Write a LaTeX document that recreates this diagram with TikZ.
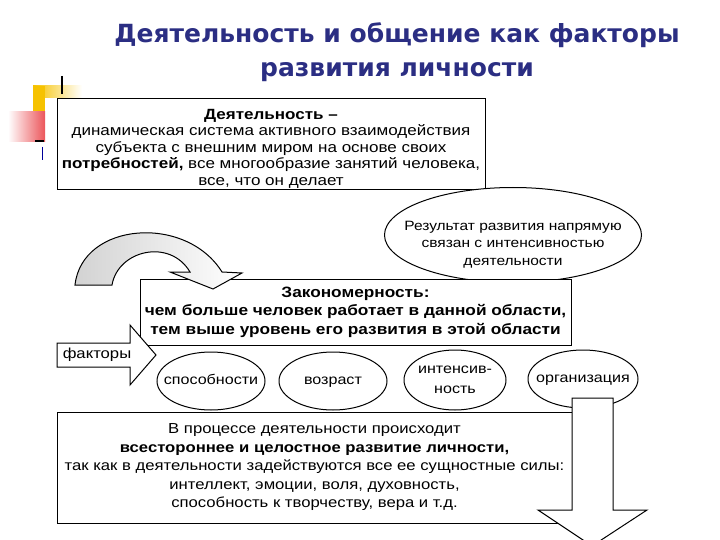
\documentclass[tikz,border=0pt]{standalone}
\usepackage{fontspec}
\setmainfont[FakeStretch=1.15]{Liberation Sans}
\newfontfamily\headfont{DejaVu Sans}
\usetikzlibrary{shapes.geometric}
\definecolor{headblue}{HTML}{2B2E83}
\definecolor{markyellow}{HTML}{F6C200}
\definecolor{markred}{HTML}{E8373D}
\newcommand{\lift}[1]{\rule{0pt}{#1}}
\tikzset{
    textbox/.style={draw,line width=1pt,fill=white,align=center,inner sep=0pt},
    oval/.style={ellipse,draw,line width=1pt,fill=white,align=center,inner xsep=-20pt,inner ysep=-12pt},
    smalloval/.style={oval,font=\fontsize{14}{19}\selectfont,text height=10pt,text depth=3pt},
    blockarrow/.style={draw,line width=1pt,fill=white,line join=miter},
    boxfont/.style={font=\fontsize{14.8}{16.5}\selectfont},
}

\begin{document}
\begin{tikzpicture}[x=1pt,y=-1pt]
    \useasboundingbox[fill=white] (0,0) rectangle (720,540);
    \node[font=\headfont\bfseries\fontsize{25}{34}\selectfont,text=headblue,align=center] (title) at (397,52)
        {Деятельность и общение как факторы\\развития личности};
    \shade[left color=markyellow,right color=white] (33,86) rectangle (82,98);
    \fill[markyellow] (33,86) rectangle (45,116);
    \shade[left color=white,right color=markred!85] (8,112) rectangle (45,142);
    \draw[line width=2.5pt] (62,76) -- (62,94);
    \draw[line width=2pt] (35,141) -- (44,141);
    \draw[blue!60!black,line width=0.8pt] (42,147) -- (42,160);
    \node[textbox,boxfont,minimum width=428pt,minimum height=91pt] (act) at (271,144)
        {\lift{19pt}\textbf{Деятельность –}\\
        динамическая система активного взаимодействия\\
        субъекта с внешним миром на основе своих\\
        \textbf{потребностей,} все многообразие занятий человека,\\
        все, что он делает};
    \node[oval,font=\fontsize{13.5}{17.5}\selectfont,minimum width=257pt,minimum height=95pt] (result) at (513,235)
        {\lift{28pt}Результат развития напрямую\\связан с интенсивностью\\деятельности};
    \node[textbox,font=\bfseries\fontsize{15}{18.5}\selectfont,minimum width=431pt,minimum height=66pt] (law) at (355.5,312)
        {Закономерность:\\
        чем больше человек работает в данной области,\\
        тем выше уровень его развития в этой области};
    \coordinate (P) at (170,272);
    \coordinate (Q) at (213,289);
    \coordinate (R) at (242,273);
    \shade[left color=gray!35,right color=white,draw,line width=1pt,line join=miter]
        (112,285) .. controls (118,250) and (170,238) .. (190,272) -- (P) -- (Q) -- (R) -- (222,272)
        .. controls (186,214) and (82,222) .. (75,285) -- cycle;
    \draw[blockarrow] (57,343) -- (130,343) -- (130,325) -- (156,355) -- (130,385) -- (130,367) -- (57,367) -- cycle;
    \node[font=\fontsize{14.5}{16}\selectfont] (factors) at (97,355) {факторы};
    \node[textbox,font=\fontsize{14.5}{18.5}\selectfont,minimum width=515pt,minimum height=111pt] (process) at (314.5,467.5)
        {В процессе деятельности происходит\\
        \textbf{всестороннее и целостное развитие личности,}\\
        так как в деятельности задействуются все ее сущностные силы:\\
        интеллект, эмоции, воля, духовность,\\
        способность к творчеству, вера и т.д.};
    \node[smalloval,minimum width=108pt,minimum height=58pt] (ability) at (211,381) {способности};
    \node[smalloval,minimum width=108pt,minimum height=58pt] (age) at (333,381) {возраст};
    \node[oval,font=\fontsize{14}{20}\selectfont,minimum width=102pt,minimum height=60pt] (intensity) at (455,380) {интенсив-\\ность};
    \node[smalloval,minimum width=110pt,minimum height=58pt] (organisation) at (583,379) {организация};
    \draw[blockarrow] (572,398) -- (613,398) -- (613,510) -- (647,510) -- (592,546) -- (538,510) -- (572,510) -- cycle;
\end{tikzpicture}
\end{document}
